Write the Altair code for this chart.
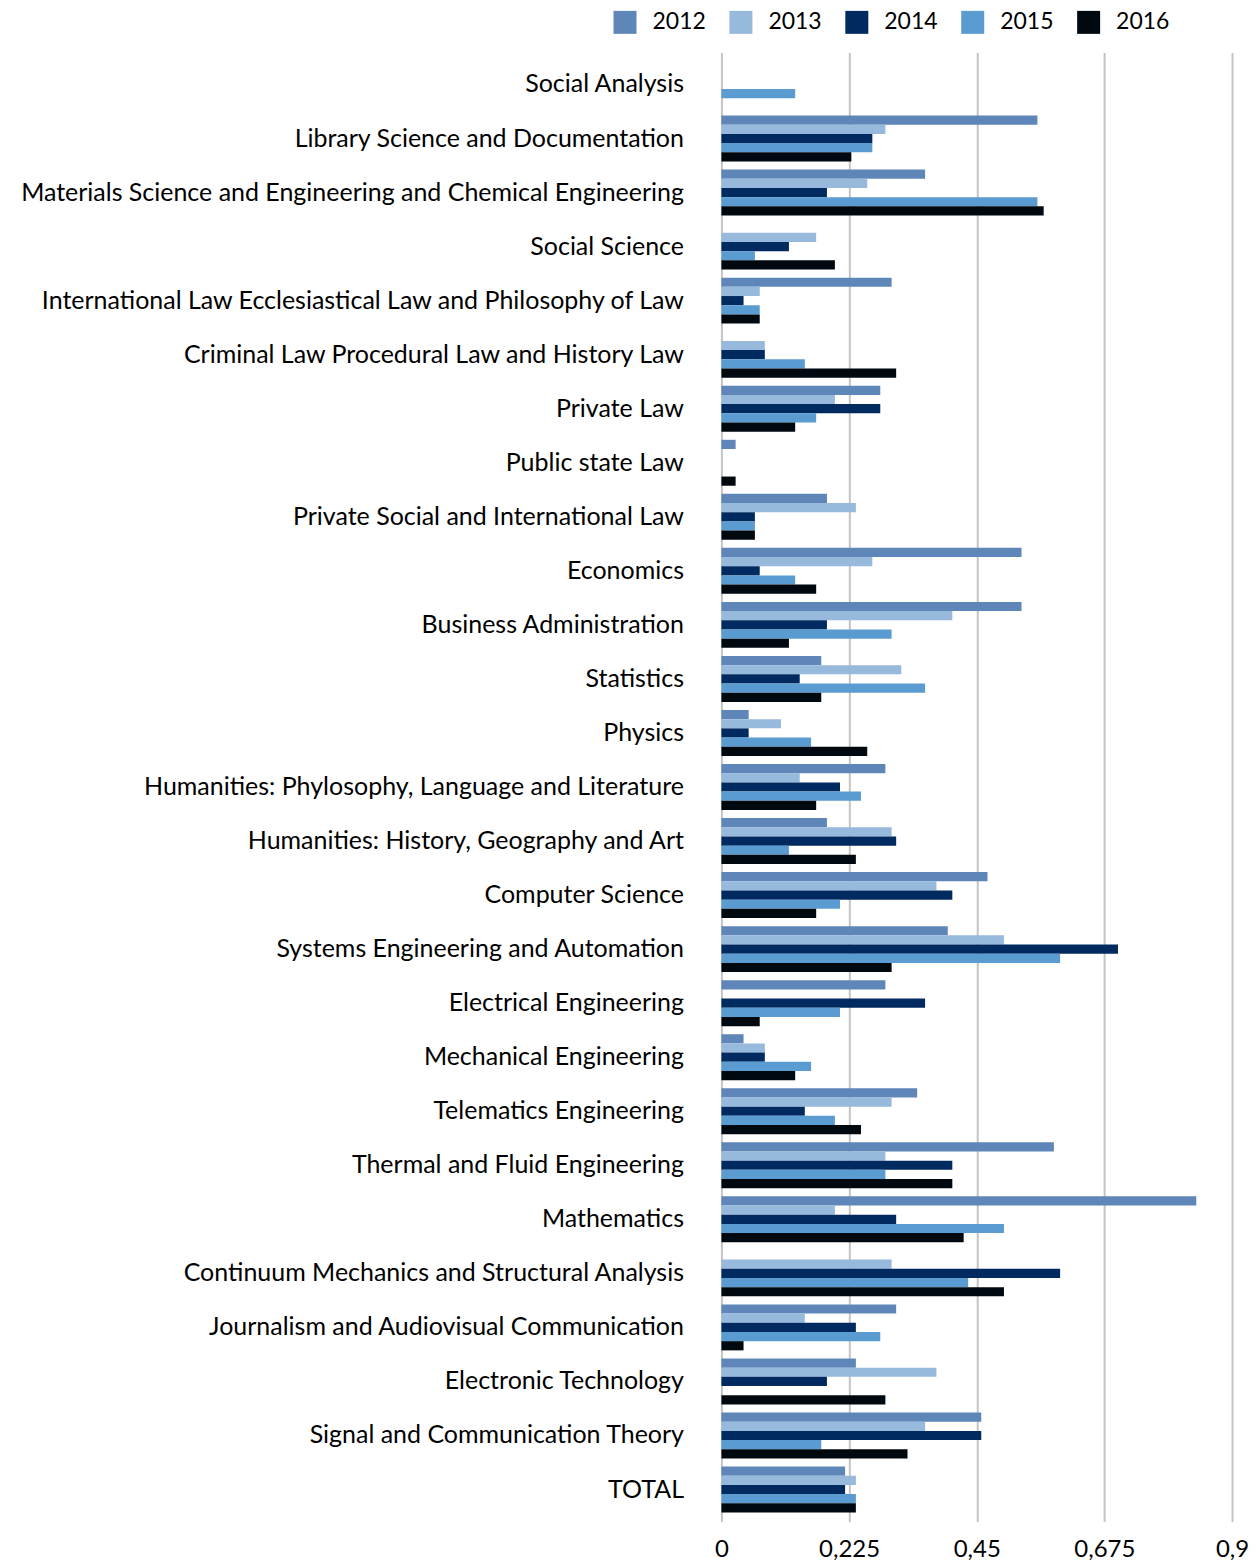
import altair as alt
import pandas as pd

categories = [
    "Social Analysis",
    "Library Science and Documentation",
    "Materials Science and Engineering and Chemical Engineering",
    "Social Science",
    "International Law Ecclesiastical Law and Philosophy of Law",
    "Criminal Law Procedural Law and History Law",
    "Private Law",
    "Public state Law",
    "Private Social and International Law",
    "Economics",
    "Business Administration",
    "Statistics",
    "Physics",
    "Humanities: Phylosophy, Language and Literature",
    "Humanities: History, Geography and Art",
    "Computer Science",
    "Systems Engineering and Automation",
    "Electrical Engineering",
    "Mechanical Engineering",
    "Telematics Engineering",
    "Thermal and Fluid Engineering",
    "Mathematics",
    "Continuum Mechanics and Structural Analysis",
    "Journalism and Audiovisual Communication",
    "Electronic Technology",
    "Signal and Communication Theory",
    "TOTAL",
]

years = ["2012", "2013", "2014", "2015", "2016"]

v2012 = [0, 0.557, 0.359, 0, 0.300, 0, 0.280, 0.025, 0.186, 0.529, 0.529, 0.176, 0.048,
         0.289, 0.186, 0.469, 0.399, 0.289, 0.039, 0.345, 0.586, 0.837, 0, 0.308, 0.237,
         0.458, 0.218]
v2013 = [0, 0.289, 0.257, 0.167, 0.0675, 0.0765, 0.200, 0, 0.237, 0.266, 0.407, 0.317, 0.105,
         0.138, 0.300, 0.379, 0.498, 0, 0.0765, 0.300, 0.289, 0.200, 0.300, 0.147, 0.379,
         0.359, 0.237]
v2014 = [0, 0.266, 0.186, 0.119, 0.039, 0.0765, 0.280, 0, 0.059, 0.0675, 0.186, 0.138, 0.048,
         0.209, 0.308, 0.407, 0.699, 0.359, 0.0765, 0.147, 0.407, 0.308, 0.597, 0.237, 0.186,
         0.458, 0.218]
v2015 = [0.130, 0.266, 0.557, 0.059, 0.0675, 0.147, 0.167, 0, 0.059, 0.130, 0.300, 0.359, 0.158,
         0.246, 0.119, 0.209, 0.597, 0.209, 0.158, 0.200, 0.289, 0.498, 0.435, 0.280, 0,
         0.176, 0.237]
v2016 = [0, 0.229, 0.568, 0.200, 0.0675, 0.308, 0.130, 0.025, 0.059, 0.167, 0.119, 0.176, 0.257,
         0.167, 0.237, 0.167, 0.300, 0.0675, 0.130, 0.246, 0.407, 0.427, 0.498, 0.039, 0.289,
         0.328, 0.237]

colors = ["#5e86b8", "#96b9dc", "#002a60", "#5a9bd2", "#000810"]
tick_values = [0, 0.225, 0.45, 0.675, 0.9]

series = [v2012, v2013, v2014, v2015, v2016]
rows = []
for yr, vals in zip(years, series):
    for cat, v in zip(categories, vals):
        rows.append({"category": cat, "year": yr, "value": v})
df = pd.DataFrame(rows)

FONT = "Lato"

chart = alt.Chart(df).mark_bar().encode(
    y=alt.Y("category:N", sort=categories,
            scale=alt.Scale(paddingInner=0.15, paddingOuter=0.165),
            axis=alt.Axis(title=None, ticks=False, domain=False, grid=False,
                          labelFontSize=25, labelFont=FONT, labelColor="#000000",
                          labelPadding=38, labelLimit=800)),
    yOffset=alt.YOffset("year:N", sort=years),
    x=alt.X("value:Q",
            scale=alt.Scale(domain=[0, 0.9], nice=False, zero=True),
            axis=alt.Axis(title=None, values=tick_values, ticks=False, domain=False,
                          grid=True, gridColor="#c4c4c4", gridWidth=2,
                          labelFontSize=24, labelFont=FONT, labelColor="#000000",
                          labelPadding=16, labelFlush=False,
                          labelExpr="replace(format(datum.value, '~g'), '.', ',')")),
    color=alt.Color("year:N", sort=years,
                    scale=alt.Scale(domain=years, range=colors),
                    legend=alt.Legend(title=None, orient="none", legendX=-108, legendY=-42,
                                      direction="horizontal", symbolType="square",
                                      symbolSize=529, symbolStrokeWidth=0,
                                      labelFontSize=23, labelFont=FONT,
                                      labelColor="#000000", labelOffset=16,
                                      labelLimit=300,
                                      columnPadding=23, symbolOpacity=1)),
).properties(
    width=511,
    height=1470,
    autosize=alt.AutoSizeParams(type="none"),
    padding={"left": 714, "top": 44, "right": 20, "bottom": 40},
).configure_view(stroke=None)

chart.save("out.html", embed_options={"renderer": "svg", "actions": False})
